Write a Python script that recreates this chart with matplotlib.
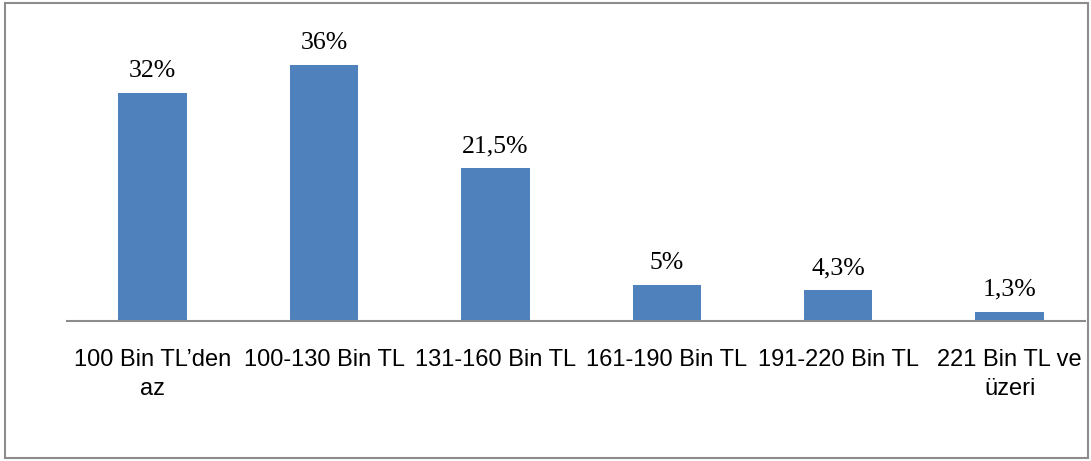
import matplotlib.pyplot as plt
from matplotlib.patches import Rectangle

# veriler
kategoriler = ["100 Bin TL\u2019den\naz", "100-130 Bin TL", "131-160 Bin TL",
               "161-190 Bin TL", "191-220 Bin TL", "221 Bin TL ve\nüzeri"]
degerler = [32, 36, 21.5, 5, 4.3, 1.3]
etiketler = ["32%", "36%", "21,5%", "5%", "4,3%", "1,3%"]

fig = plt.figure(figsize=(10.91, 4.61), dpi=100)
ax = fig.add_axes([67/1091, 1-321/461, 1018/1091, (321-36.6)/461])

x = range(len(degerler))
bars = ax.bar(x, degerler, width=0.4, color='#4F81BD')

for b, t in zip(bars, etiketler):
    ax.annotate(t, (b.get_x()+b.get_width()/2, b.get_height()),
                xytext=(0, 8), textcoords='offset points',
                ha='center', va='bottom', fontsize=18.5,
                family='Liberation Serif')

ax.set_xlim(-0.5, 5.44)
ax.set_ylim(0, 40)
ax.set_xticks(list(x))
ax.set_xticklabels(kategoriler, fontsize=17, family='Liberation Sans',
                   linespacing=1.4)
ax.tick_params(axis='x', length=0, pad=20)
ax.set_yticks([])
for s in ['top', 'right', 'left']:
    ax.spines[s].set_visible(False)
ax.spines['bottom'].set_color('#8C8C8C')
ax.spines['bottom'].set_linewidth(1.5)

# grafik çerçevesi
fig.patches.append(Rectangle((5/1091, 3/461), 1083/1091, 455/461,
                             transform=fig.transFigure, fill=False,
                             edgecolor='#8C8C8C', linewidth=1.5))

fig.savefig('out.png', dpi=100)
